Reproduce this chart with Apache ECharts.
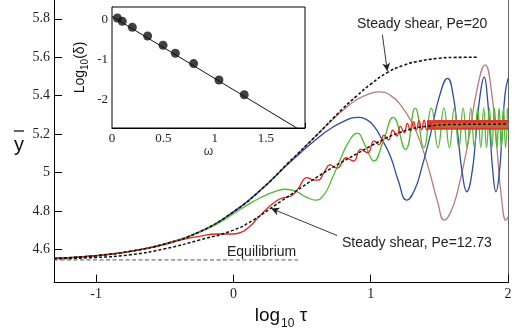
<!DOCTYPE html>
<html><head><meta charset="utf-8">
<script src="https://cdn.jsdelivr.net/npm/echarts@6/dist/echarts.min.js"></script>
<style>html,body{margin:0;padding:0;background:#fff}#c{width:521px;height:335px}</style>
</head><body><div id="c"></div>
<script>
// ---- main axes ticks ----
const xTicks = [-1, 0, 1, 2];
const yTicks = [4.6, 4.8, 5.0, 5.2, 5.4, 5.6, 5.8];
// ---- main curves ([log10 tau, ybar]) ----
const equilibrium = [[-1.307, 4.545], [0.47, 4.545]];
const pe20 = [[-1.307,4.553],[-1.15,4.559],[-1.0,4.567],[-0.75,4.59],[-0.5,4.628],[-0.25,4.69],[0,4.795],[0.2,4.91],[0.4,5.05],[0.6,5.19],[0.8,5.335],[0.9,5.40],[1.0,5.46],[1.12,5.52],[1.24,5.558],[1.34,5.578],[1.49,5.594],[1.6,5.599],[1.78,5.6]];
const pe1273 = [[-1.307,4.551],[-1.0,4.558],[-0.75,4.572],[-0.5,4.603],[-0.25,4.648],[0,4.70],[0.15,4.755],[0.3,4.828],[0.45,4.9],[0.6,4.972],[0.75,5.038],[0.9,5.098],[1.0,5.138],[1.1,5.175],[1.2,5.205],[1.3,5.228],[1.4,5.24],[1.6,5.25],[2.0,5.252]];
const blue = [[-1.307,4.553],[-1.0,4.567],[-0.75,4.59],[-0.5,4.628],[-0.25,4.69],[0,4.795],[0.2,4.91],[0.4,5.045],[0.5,5.11],[0.6,5.17],[0.7,5.225],[0.8,5.265],[0.9,5.287],[0.97,5.275],[1.03,5.235],[1.08,5.175],[1.146,5.08],[1.2,4.96],[1.263,4.856],[1.32,4.91],[1.37,5.02],[1.436,5.2],[1.502,5.4],[1.56,5.49],[1.6,5.404],[1.635,5.195],[1.669,4.986],[1.70,4.90],[1.735,4.986],[1.767,5.195],[1.797,5.404],[1.827,5.497],[1.848,5.404],[1.870,5.195],[1.892,4.986],[1.912,4.90],[1.935,4.986],[1.957,5.195],[1.978,5.404],[2.0,5.49]];
const brown = [[-1.307,4.553],[-1.0,4.567],[-0.75,4.59],[-0.5,4.628],[-0.25,4.69],[0,4.795],[0.2,4.91],[0.4,5.05],[0.6,5.19],[0.7,5.26],[0.8,5.325],[0.9,5.38],[1.0,5.412],[1.06,5.42],[1.146,5.40],[1.22,5.35],[1.3,5.26],[1.37,5.14],[1.43,5.0],[1.49,4.84],[1.535,4.752],[1.58,4.79],[1.632,4.9],[1.709,5.155],[1.776,5.438],[1.834,5.559],[1.877,5.438],[1.916,5.155],[1.952,4.872],[1.985,4.752],[2.0,4.77]];
const green = [[-1.307,4.553],[-1.0,4.567],[-0.75,4.59],[-0.5,4.628],[-0.25,4.688],[-0.1,4.74],[0,4.785],[0.1,4.83],[0.2,4.87],[0.3,4.9],[0.38,4.913],[0.46,4.9],[0.53,4.872],[0.6,4.856],[0.66,4.885],[0.72,4.97],[0.78,5.07],[0.84,5.16],[0.902,5.205],[0.96,5.14],[1.024,5.06],[1.09,5.16],[1.164,5.287],[1.253,5.12],
  [1.324,5.335],[1.387,5.13],[1.441,5.335],[1.490,5.13],[1.533,5.335],[1.573,5.13],[1.609,5.335],[1.642,5.13],[1.673,5.335],[1.702,5.13],[1.729,5.335],[1.755,5.13],[1.779,5.335],[1.802,5.13],[1.823,5.335],[1.844,5.13],[1.864,5.335],[1.883,5.13],[1.901,5.335],[1.919,5.13],[1.935,5.335],[1.951,5.13],[1.967,5.335],[1.982,5.13],[1.996,5.335]];
const red = [[-1.307,4.553],[-1.0,4.567],[-0.75,4.59],[-0.5,4.625],[-0.38,4.65],[-0.25,4.668],[-0.12,4.68],[0,4.68],[0.06,4.69],[0.12,4.72],[0.18,4.765],[0.25,4.815],[0.3,4.845],[0.35,4.866],[0.42,4.878],[0.47,4.915],[0.537,4.973],[0.58,4.962],[0.615,4.96],[0.66,5.0],[0.703,5.04],[0.735,5.028],[0.757,5.023],[0.79,5.05],[0.818,5.077],[0.875,5.06],[0.927,5.12],[0.978,5.103],[1.024,5.165],[1.061,5.145],[1.097,5.195],[1.13,5.17],[1.161,5.22],[1.19,5.19],[1.217,5.24],[1.243,5.207],[1.267,5.256],[1.29,5.215],[1.312,5.265],[1.332,5.222],[1.352,5.27],[1.371,5.222],[1.389,5.272],[1.407,5.222],[1.424,5.272]];
// dense red oscillation band (edges)
const bandX  = [1.41, 1.5, 1.6, 1.7, 1.8, 1.9, 2.0];
const bandLo = [5.222, 5.222, 5.223, 5.223, 5.223, 5.223, 5.223];
const bandHi = [5.272, 5.273, 5.274, 5.274, 5.274, 5.274, 5.274];
const coreX  = [1.45, 1.6, 1.8, 2.0];
const coreLo = [5.234, 5.233, 5.233, 5.233];
const coreHi = [5.258, 5.259, 5.259, 5.259];
// ---- inset ----
const insetXTicks = [0, 0.5, 1, 1.5];
const insetYTicks = [0, -1, -2];
const insetPts = [[0.052,0.05],[0.10,-0.03],[0.198,-0.18],[0.347,-0.40],[0.497,-0.63],[0.617,-0.83],[0.795,-1.09],[1.042,-1.5],[1.288,-1.87]];
const insetFit = [[0,0.09],[1.8,-2.7]];

const chart = echarts.init(document.getElementById('c'), null, {renderer:'canvas'});
const serif = 'Liberation Serif', sans = 'Liberation Sans';

function bandSeries(xs, lo, hi, color, z){
  return {type:'custom', xAxisIndex:0, yAxisIndex:0, z:z, silent:true, clip:true,
    data:[[xs[0], lo[0]]], encode:{x:0,y:1},
    renderItem:function(params, api){
      const pts=[];
      for(let i=0;i<xs.length;i++) pts.push(api.coord([xs[i],hi[i]]));
      for(let i=xs.length-1;i>=0;i--) pts.push(api.coord([xs[i],lo[i]]));
      return {type:'polygon', shape:{points:pts}, style:{fill:color}};
    }};
}
function line(data, color, width, type, z){
  return {type:'line', data:data, xAxisIndex:0, yAxisIndex:0, smooth:0.5, showSymbol:false, symbol:'none', z:z, silent:true,
    lineStyle:{color:color, width:width, type:type||'solid'}};
}

const option = {
  animation:false,
  backgroundColor:'#fff',
  grid:[
    {left:54, right:13, top:0, bottom:50, show:false},
    {left:112, top:7, width:193, height:121, show:true, borderColor:'#000', borderWidth:1, backgroundColor:'#fff', z:5}
  ],
  xAxis:[
    {type:'value', gridIndex:0, min:-1.307, max:2,
      axisLine:{show:true, onZero:false, lineStyle:{color:'#000', width:1}},
      axisTick:{show:true, inside:true, length:8, customValues:xTicks, lineStyle:{color:'#000'}},
      axisLabel:{show:true, customValues:xTicks, margin:5, color:'#222', fontFamily:serif, fontSize:14},
      splitLine:{show:false},
      name:'{a|log}{s|10}{a| τ}', nameLocation:'middle', nameGap:16,
      nameTextStyle:{color:'#111', rich:{a:{fontSize:19, fontFamily:sans, color:'#111'}, s:{fontSize:12, fontFamily:sans, color:'#111', padding:[16,0,0,1]}}}
    },
    {type:'value', gridIndex:1, min:0, max:1.88, interval:0.25,
      axisLine:{show:true, onZero:false, lineStyle:{color:'#000'}},
      axisTick:{show:true, inside:true, length:5, lineStyle:{color:'#000'}},
      axisLabel:{show:true, customValues:insetXTicks, margin:4, color:'#222', fontFamily:serif, fontSize:13,
        formatter:v=>String(+(+v).toFixed(2))},
      splitLine:{show:false},
      name:'ω', nameLocation:'middle', nameGap:16, nameTextStyle:{color:'#333', fontFamily:sans, fontSize:12}
    }
  ],
  yAxis:[
    {type:'value', gridIndex:0, min:4.427, max:5.898,
      axisLine:{show:true, onZero:false, lineStyle:{color:'#000', width:1}},
      axisTick:{show:true, inside:true, length:8, customValues:yTicks, lineStyle:{color:'#000'}},
      axisLabel:{show:true, customValues:yTicks, margin:4, color:'#222', fontFamily:serif, fontSize:14,
        formatter:v=>String(+(+v).toFixed(1))},
      splitLine:{show:false}
    },
    {type:'value', gridIndex:1, min:-2.7, max:0.325,
      axisLine:{show:true, onZero:false, lineStyle:{color:'#000'}},
      axisTick:{show:true, inside:true, length:6, customValues:insetYTicks, lineStyle:{color:'#000'}},
      axisLabel:{show:true, customValues:insetYTicks, margin:4, color:'#222', fontFamily:serif, fontSize:13,
        formatter:v=>String(Math.round(v))},
      splitLine:{show:false},
      name:'{a|Log}{s|10}{a|(δ)}', nameLocation:'middle', nameRotate:90, nameGap:22,
      nameTextStyle:{color:'#111', rich:{a:{fontSize:14, fontFamily:sans, color:'#111'}, s:{fontSize:10, fontFamily:sans, color:'#111', padding:[10,0,0,0]}}}
    },
    {type:'value', gridIndex:0, position:'right', min:4.427, max:5.898,
      axisLine:{show:true, onZero:false, lineStyle:{color:'#666', width:1}},
      axisTick:{show:false}, axisLabel:{show:false}, splitLine:{show:false}}
  ],
  series:[
    Object.assign(line(equilibrium, '#555', 1, [4,2.5], 2), {smooth:false,
      markLine:{silent:true, symbol:['none','arrow'], symbolSize:[6,8], animation:false,
        lineStyle:{color:'#222', width:0.9, type:'solid'}, label:{show:false},
        data:[[{coord:[1.085,5.717]},{coord:[1.121,5.528]}],[{coord:[0.756,4.672]},{coord:[0.275,4.813]}]]}}),
    line(brown, '#b97c7a', 1.3, 'solid', 3),
    line(blue, '#2b4ca8', 1.3, 'solid', 4),
    line(green, '#52b832', 1.3, 'solid', 5),
    line(red, '#e8231c', 1.3, 'solid', 6),
    bandSeries(bandX, bandLo, bandHi, '#e0352a', 6),
    bandSeries(coreX, coreLo, coreHi, '#c4683a', 6),
    line(pe1273, '#111', 1.5, [3,2], 8),
    line(pe20, '#111', 1.6, [3,2], 8),
    {type:'line', xAxisIndex:1, yAxisIndex:1, data:insetFit, showSymbol:false, symbol:'none', z:10, silent:true,
      lineStyle:{color:'#111', width:1}},
    {type:'scatter', xAxisIndex:1, yAxisIndex:1, data:insetPts, symbol:'circle', symbolSize:9, z:11, silent:true,
      itemStyle:{color:'#111'}}
  ],
  graphic:[
    {type:'text', x:19, y:145, z:20, style:{text:'y', font:'20px "Liberation Sans"', fill:'#111', textAlign:'center', textVerticalAlign:'middle'}},
    {type:'line', z:20, shape:{x1:14, y1:131, x2:24, y2:131}, style:{stroke:'#111', lineWidth:1.3}},
    {type:'text', x:357, y:24, z:20, style:{text:'Steady shear, Pe=20', font:'14px "Liberation Sans"', fill:'#222', textAlign:'left', textVerticalAlign:'middle'}},
    {type:'text', x:342, y:243, z:20, style:{text:'Steady shear, Pe=12.73', font:'14px "Liberation Sans"', fill:'#222', textAlign:'left', textVerticalAlign:'middle'}},
    {type:'text', x:227, y:252, z:20, style:{text:'Equilibrium', font:'14px "Liberation Sans"', fill:'#222', textAlign:'left', textVerticalAlign:'middle'}}
  ]
};
chart.setOption(option);
</script>
</body></html>
